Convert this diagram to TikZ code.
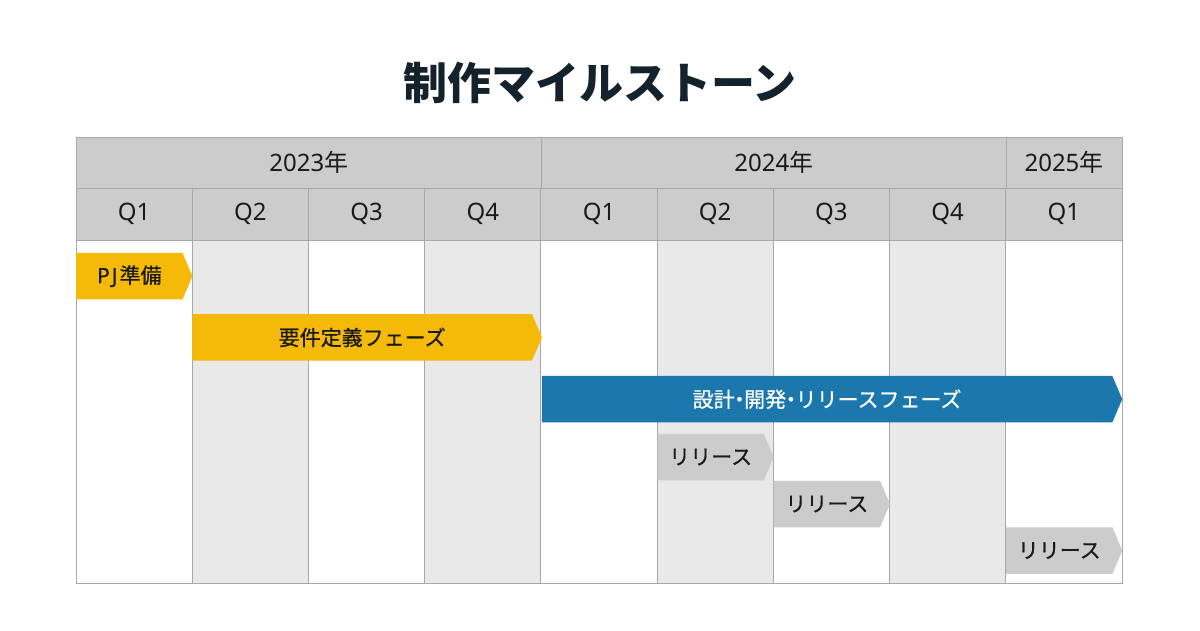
\documentclass[tikz,border=0pt]{standalone}
\usepackage{fontspec}
\setmainfont{Noto Sans}
\newfontfamily\jp{Noto Sans CJK JP}
\newfontfamily\jpmed{Noto Sans CJK JP}[FakeBold=0.6]
\newfontfamily\latinmed{Noto Sans}[FakeBold=0.6]
\usetikzlibrary{shapes.symbols}
\definecolor{hdrgray}{HTML}{CCCCCC}
\definecolor{bandgray}{HTML}{E9E9E9}
\definecolor{gridgray}{HTML}{A8A8A8}
\definecolor{phaseyellow}{HTML}{F5BA08}
\definecolor{phaseblue}{HTML}{1C77AD}
\definecolor{ink}{HTML}{1A1A1A}
\definecolor{titleink}{HTML}{14232B}
\newcommand{\nakaguro}{\makebox[0.45em]{・}}
\tikzset{
    hdr/.style = {fill=hdrgray},
    band/.style = {fill=bandgray},
    grid/.style = {draw=gridgray, line width=1pt},
    label/.style = {font=\fontsize{24}{28}\selectfont, text=ink},
    phase/.style = {signal, signal to=east, signal from=nowhere, anchor=west,
        signal pointer angle=134, inner sep=0pt, minimum height=46.5pt,
        font=\fontsize{21}{25}\selectfont\jpmed, text=ink},
    release/.style = {phase, fill=hdrgray}
}
\begin{document}
\begin{tikzpicture}[x=1pt, y=-1pt]
    \useasboundingbox[fill=white] (0,0) rectangle (1200,630);
    \def\w{116.22}
    % title
    \node[text=titleink, font=\fontsize{44}{50}\selectfont\jp\bfseries] (title) at (600,83) {制作マイルストーン};
    % header rows and shaded quarters
    \fill[hdr] (76,137) rectangle (1122,240);
    \foreach \i in {1,3,5,7}
        \fill[band] (76+\i*\w,240) rectangle (76+\i*\w+\w,583);
    \foreach \i in {1,...,8}
        \draw[grid] (76+\i*\w,188) -- (76+\i*\w,583);
    \draw[grid] (541.7,137) -- (541.7,188);
    \draw[grid] (1006,137) -- (1006,188);
    \draw[grid] (76,188) -- (1122,188);
    \draw[grid] (76,240) -- (1122,240);
    \draw[grid] (76,137) rectangle (1122,583);
    % years
    \node[label] (y2023) at (308.9,162.7) {2023{\jp 年}};
    \node[label] (y2024) at (773.9,162.7) {2024{\jp 年}};
    \node[label] (y2025) at (1064,162.7) {2025{\jp 年}};
    % quarters
    \foreach \q [count=\i from 0] in {Q1,Q2,Q3,Q4,Q1,Q2,Q3,Q4,Q1}
        \node[label] (q\i) at (76+\i*\w+\w/2,214) {\q};
    % phases
    \node[phase, fill=phaseyellow, minimum width=116.2pt] (prep) at (76,276.2) {{\latinmed P\kern2pt J\kern2pt}準備};
    \node[phase, fill=phaseyellow, minimum width=349.5pt] (req) at (192.2,337.4) {要件定義フェーズ};
    \node[phase, fill=phaseblue, text=white, minimum width=580.3pt] (dev) at (541.7,399.2) {設計\nakaguro 開発\nakaguro リリースフェーズ};
    % releases
    \node[release, minimum width=116.2pt] (rel1) at (657.3,457) {リリース};
    \node[release, minimum width=116.2pt] (rel2) at (773.5,504) {リリース};
    \node[release, minimum width=116.2pt] (rel3) at (1005.9,550.5) {リリース};
\end{tikzpicture}
\end{document}
